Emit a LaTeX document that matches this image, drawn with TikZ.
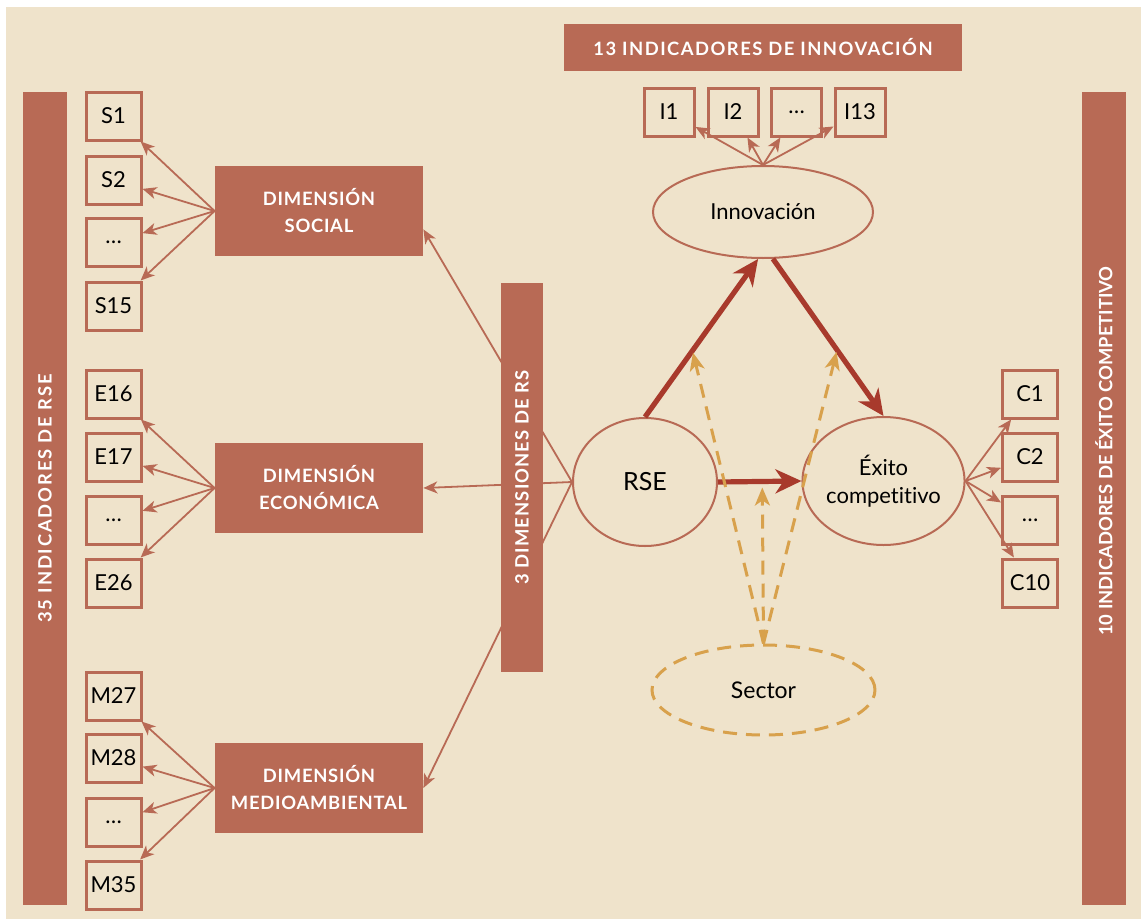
\documentclass[tikz,border=0pt]{standalone}
\usepackage{fontspec}
\setmainfont{Lato}[Ligatures=NoCommon]
\newfontfamily\capfont{Lato}
\usetikzlibrary{shapes.geometric,arrows.meta,calc}
\definecolor{fondo}{HTML}{EFE3CB}
\definecolor{teja}{HTML}{B86A55}
\definecolor{granate}{HTML}{A83A2C}
\definecolor{ocre}{HTML}{D8A14C}
\newcommand\caps[1]{\capfont\bfseries\addfontfeatures{LetterSpace=#1}\fontsize{9.2}{13.5}\selectfont}
\tikzset{
  ind/.style={draw=teja,line width=1.5pt,minimum width=27.5pt,minimum height=24pt,inner sep=0pt,font=\fontsize{11}{12}\selectfont},
  dim/.style={fill=teja,minimum width=104pt,minimum height=45pt,inner sep=0pt,text=white,align=center,font=\caps{4}},
  barra/.style={fill=teja,inner sep=0pt,text=white},
  lat/.style={ellipse,draw=teja,line width=1pt,inner sep=0pt,align=center},
  conn/.style={draw=teja,line width=0.9pt,-{Stealth[length=7pt,width=6pt,inset=2pt]}},
  fuerte/.style={draw=granate,line width=2.6pt,-{Stealth[length=13pt,width=12pt,inset=4pt]}},
  mod/.style={draw=ocre,line width=1.5pt,dash pattern=on 7pt off 4.5pt,-{Stealth[length=9pt,width=7.5pt,inset=2.5pt]}}
}
\begin{document}
\begin{tikzpicture}[x=0.5pt,y=-0.5pt]
\fill[white] (0,0) rectangle (1141,921);
\fill[fondo] (6,7) rectangle (1141,919);
\useasboundingbox (0,0) rectangle (1141,921);

\node[barra,minimum width=199pt,minimum height=23.5pt,font=\caps{8}] (ban) at (763,47.5) {13 INDICADORES DE INNOVACIÓN};
\node[barra,rotate=90,minimum width=406.5pt,minimum height=22pt,font=\caps{10}] (rsebar) at (45,498.5) {35 INDICADORES DE RSE};
\node[barra,rotate=90,minimum width=406.5pt,minimum height=22pt] (cbar) at (1104,498.5) {};
\node[barra,rotate=90,fill=none,font=\caps{0}] (ctxt) at (1104,451) {10 INDICADORES DE ÉXITO COMPETITIVO};

\node[dim] (soc) at (319,211) {DIMENSIÓN\\SOCIAL};
\node[dim] (eco) at (319,488) {DIMENSIÓN\\ECONÓMICA};
\node[dim] (med) at (319,788) {DIMENSIÓN\\MEDIOAMBIENTAL};

\foreach \t/\y [count=\k] in {S1/116,S2/180,\ldots/242,S15/306}
  \node[ind] (s\k) at (113.5,\y) {\t};
\foreach \t/\y [count=\k] in {E16/394,E17/457,\ldots/520,E26/583}
  \node[ind] (e\k) at (113.5,\y) {\t};
\foreach \t/\y [count=\k] in {M27/696,M28/758,\ldots/822,M35/885}
  \node[ind] (m\k) at (113.5,\y) {\t};
\foreach \t/\y [count=\k] in {C1/394,C2/457,\ldots/520,C10/583}
  \node[ind] (c\k) at (1030,\y) {\t};
\foreach \t/\x [count=\k] in {I1/669,I2/733,\ldots/796.5,I13/860}
  \node[ind,minimum width=25pt] (i\k) at (\x,112) {\t};

\node[lat,minimum width=110pt,minimum height=46pt,font=\fontsize{11}{13}\selectfont] (inn) at (763,212) {Innovación};
\node[lat,minimum width=72pt,minimum height=64pt,font=\fontsize{12.5}{14}\selectfont] (rse) at (645,482) {RSE};
\node[lat,minimum width=71.5pt,minimum height=64pt,font=\fontsize{11}{14}\selectfont] (exito) at (883.5,481) {Éxito\\competitivo};
\node[lat,draw=ocre,line width=1.5pt,dash pattern=on 7pt off 4.5pt,minimum width=111.5pt,minimum height=45pt,font=\fontsize{11.5}{13}\selectfont] (sector) at (763.5,690) {Sector};

\foreach \k in {1,...,4} {
  \draw[conn] (soc.west) -- (s\k);
  \draw[conn] (eco.west) -- (e\k);
  \draw[conn] (med.west) -- (m\k);
  \draw[conn] (exito.east) -- (c\k);
  \draw[conn] (inn.north) -- (i\k);
}
\draw[conn] (rse.west) -- (soc.-10);
\draw[conn] (rse.west) -- (eco.east);
\draw[conn] (rse.west) -- (med.east);

\node[barra,rotate=90,minimum width=194.5pt,minimum height=21pt,font=\caps{6}] (dbar) at (522,477.5) {3 DIMENSIONES DE RS};

\draw[fuerte] (rse.north) -- (inn.-96);
\draw[fuerte] (inn.-78) -- (exito.north);
\draw[fuerte] (rse.east) -- (exito.west);

\coordinate (p1) at ($(rse.north)!0.42!(inn.-96)$);
\coordinate (p2) at ($(inn.-78)!0.58!(exito.north)$);
\coordinate (p3) at ($(rse.east)!0.53!(exito.west)$);
\draw[mod,shorten >=1pt] (sector.north) -- (p1);
\draw[mod,shorten >=1pt] (sector.north) -- (p2);
\draw[mod,shorten >=3pt] (sector.north) -- (p3);
\end{tikzpicture}
\end{document}
